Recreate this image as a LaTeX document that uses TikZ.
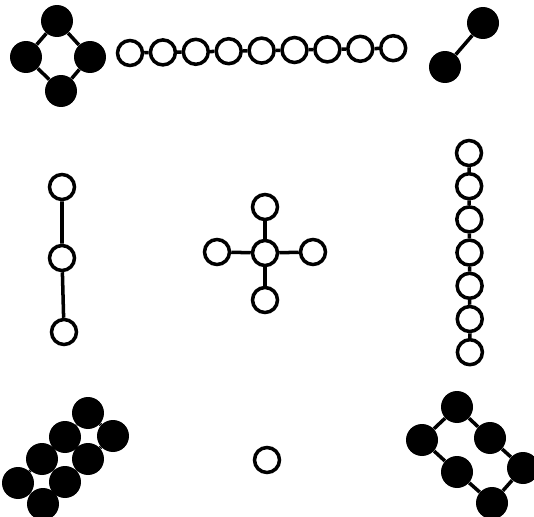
\documentclass[tikz,border=0pt]{standalone}
\usetikzlibrary{positioning}

\begin{document}
\begin{tikzpicture}[x=0.02cm, y=-0.02cm,
    openatom/.style={circle, draw=black, fill=white, line width=2pt,
      minimum size=0.5cm, inner sep=0pt},
    fullatom/.style={circle, fill=black, minimum size=0.64cm, inner sep=0pt},
    bond/.style={black, line width=2pt}]
    \useasboundingbox (0,0) rectangle (534,517);
    % Viereck oben links
    \node[fullatom] (q1) at (57,21) {};
    \node[fullatom] (q2) at (90,57) {};
    \node[fullatom] (q3) at (61,91) {};
    \node[fullatom] (q4) at (26,57) {};
    \draw[bond] (q1) -- (q2) -- (q3) -- (q4) -- (q1);
    % Kette oben
    \foreach \i in {0,...,8}
      \node[openatom] (t\i) at ({130+32.9*\i},{53-0.6*\i}) {};
    \foreach \i [count=\j from 1] in {0,...,7}
      \draw[bond] (t\i) -- (t\j);
    % Paar oben rechts
    \node[fullatom] (d1) at (483,23) {};
    \node[fullatom] (d2) at (445,67) {};
    \draw[bond] (d1) -- (d2);
    % senkrechte Dreierkette links
    \node[openatom] (l1) at (62,187) {};
    \node[openatom] (l2) at (62,258) {};
    \node[openatom] (l3) at (64,332) {};
    \draw[bond] (l1) -- (l2) -- (l3);
    % Kreuz in der Mitte
    \node[openatom] (c0) at (265,253) {};
    \node[openatom] (cn) at (265,207) {};
    \node[openatom] (cw) at (217,252) {};
    \node[openatom] (ce) at (313,252) {};
    \node[openatom] (cs) at (265,300) {};
    \foreach \k in {cn,cw,ce,cs}
      \draw[bond] (c0) -- (\k);
    % Kette rechts
    \foreach \i in {0,...,6}
      \node[openatom] (r\i) at ({469+0.15*\i},{153+33.2*\i}) {};
    \foreach \i [count=\j from 1] in {0,...,5}
      \draw[bond] (r\i) -- (r\j);
    % einzelnes Atom unten
    \node[openatom] (s) at (267,460) {};
    % Leiter unten links
    \node[fullatom] (a1) at (18,483) {};
    \node[fullatom] (a2) at (42,459) {};
    \node[fullatom] (a3) at (65,437) {};
    \node[fullatom] (a4) at (88,413) {};
    \node[fullatom] (b1) at (43,504) {};
    \node[fullatom] (b2) at (65,482) {};
    \node[fullatom] (b3) at (88,459) {};
    \node[fullatom] (b4) at (113,436) {};
    \foreach \i [count=\j from 2] in {1,2,3}{
      \draw[bond] (a\i) -- (a\j);
      \draw[bond] (b\i) -- (b\j);
    }
    \foreach \i in {1,...,4}
      \draw[bond] (a\i) -- (b\i);
    % Sechsring unten rechts
    \node[fullatom] (h1) at (457,407) {};
    \node[fullatom] (h2) at (490,438) {};
    \node[fullatom] (h3) at (523,468) {};
    \node[fullatom] (h4) at (492,503) {};
    \node[fullatom] (h5) at (457,472) {};
    \node[fullatom] (h6) at (422,440) {};
    \draw[bond] (h1) -- (h2) -- (h3) -- (h4) -- (h5) -- (h6) -- (h1);
\end{tikzpicture}
\end{document}
